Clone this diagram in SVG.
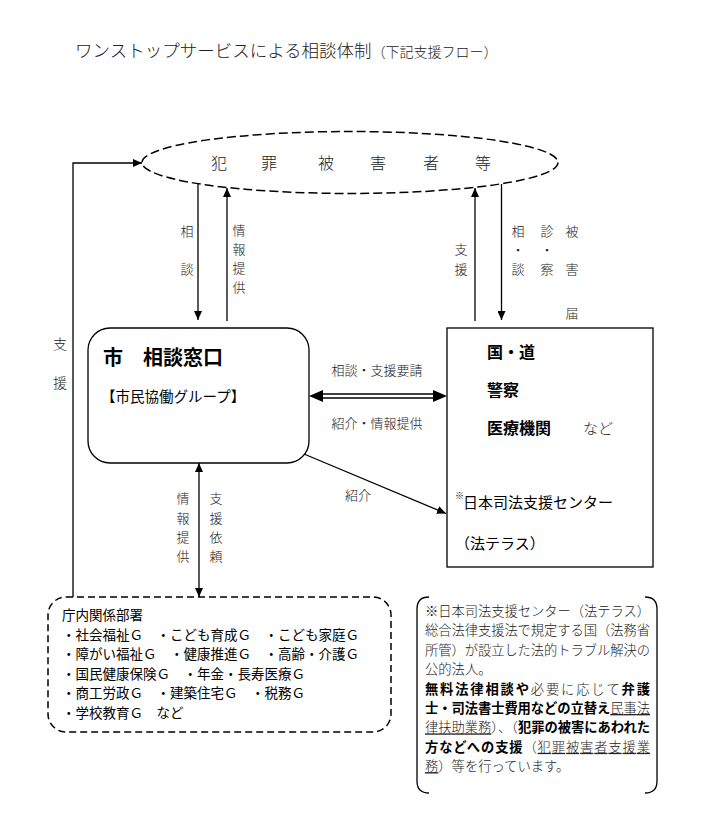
<svg xmlns="http://www.w3.org/2000/svg" width="713" height="839" viewBox="0 0 713 839">
<style>
.m{font-family:"Noto Sans CJK JP","Noto Sans",sans-serif;font-weight:300;fill:#222}
.g{font-family:"Noto Sans CJK JP","Noto Sans",sans-serif;fill:#000}
.b{font-family:"Noto Sans CJK JP","Noto Sans",sans-serif;font-weight:bold;fill:#000}
.ln{stroke:#000;stroke-width:1.3;fill:none}
.u{text-decoration:underline}
</style>
<defs>
<marker id="ah" markerUnits="userSpaceOnUse" markerWidth="9" markerHeight="8" refX="9" refY="4" orient="auto-start-reverse">
<path d="M0,0 L9,4 L0,8 z" fill="#000"/>
</marker>
</defs>
<rect width="713" height="839" fill="#fff"/>

<g id="title">
<text class="m" x="75" y="57" font-size="17.5">ワンストップサービスによる相談体制<tspan font-size="14">（下記支援フロー）</tspan></text>
</g>

<g id="victims">
<ellipse cx="350" cy="162.5" rx="208" ry="31" fill="none" stroke="#000" stroke-width="1.5" stroke-dasharray="9,4"/>
<text class="m" font-size="16" text-anchor="middle" x="219 269 326 378 431 483" y="168.5">犯罪被害者等</text>
</g>

<g id="city-window">
<rect x="88" y="328" width="221" height="135" rx="22" fill="#fff" stroke="#000" stroke-width="1.3"/>
<text class="b" x="103" y="364.5" font-size="20">市　相談窓口</text>
<text class="g" x="101" y="402" font-size="14.5">【市民協働グループ】</text>
</g>

<g id="agencies">
<rect x="447" y="328" width="206" height="239" fill="#fff" stroke="#000" stroke-width="1.3"/>
<text class="b" x="487" y="358" font-size="16">国・道</text>
<text class="b" x="487" y="396" font-size="16">警察</text>
<text class="b" x="487" y="434" font-size="16">医療機関</text>
<text class="m" x="583" y="433.5" font-size="15">など</text>
<text class="g" x="455" y="499" font-size="9">※</text>
<text class="g" x="463" y="507.5" font-size="15">日本司法支援センター</text>
<text class="g" x="455" y="549" font-size="15">（法テラス）</text>
</g>

<g id="departments">
<rect x="48" y="597" width="343" height="135" rx="18" fill="none" stroke="#000" stroke-width="1.5" stroke-dasharray="7,4"/>
<text class="g" x="62" y="620" font-size="13.5">庁内関係部署</text>
<text class="g" x="62" y="639.5" font-size="13.5">・社会福祉Ｇ　・こども育成Ｇ　・こども家庭Ｇ</text>
<text class="g" x="62" y="659" font-size="13.5">・障がい福祉Ｇ　・健康推進Ｇ　・高齢・介護Ｇ</text>
<text class="g" x="62" y="678.5" font-size="13.5">・国民健康保険Ｇ　・年金・長寿医療Ｇ</text>
<text class="g" x="62" y="698" font-size="13.5">・商工労政Ｇ　・建築住宅Ｇ　・税務Ｇ</text>
<text class="g" x="62" y="717.5" font-size="13.5">・学校教育Ｇ　など</text>
</g>

<g id="note">
<path class="ln" d="M429,597 Q417,597 417,609 V781 Q417,793 429,793"/>
<path class="ln" d="M645,597 Q657,597 657,609 V781 Q657,793 645,793"/>
<text class="m" x="425" y="616" font-size="13.3" textLength="225" lengthAdjust="spacing">※日本司法支援センター（法テラス）</text>
<text class="m" x="425" y="635.4" font-size="13.3" textLength="225" lengthAdjust="spacing">総合法律支援法で規定する国（法務省</text>
<text class="m" x="425" y="654.8" font-size="13.3" textLength="225" lengthAdjust="spacing">所管）が設立した法的トラブル解決の</text>
<text class="m" x="425" y="674.2" font-size="13.3">公的法人。</text>
<text class="m" x="425" y="693.6" font-size="13.3" textLength="225" lengthAdjust="spacing"><tspan class="b">無料法律相談や</tspan>必要に応じて<tspan class="b">弁護</tspan></text>
<text class="m" x="425" y="713" font-size="13.3" textLength="225" lengthAdjust="spacing"><tspan class="b">士・司法書士費用などの立替え</tspan><tspan class="u">民事法</tspan></text>
<text class="m" x="425" y="732.4" font-size="13.3" textLength="225" lengthAdjust="spacing"><tspan class="u">律扶助業務</tspan>）、（<tspan class="b">犯罪の被害にあわれた</tspan></text>
<text class="m" x="425" y="751.8" font-size="13.3" textLength="225" lengthAdjust="spacing"><tspan class="b">方などへの支援</tspan>（<tspan class="u">犯罪被害者支援業</tspan></text>
<text class="m" x="425" y="771.2" font-size="13.3"><tspan class="u">務</tspan>）等を行っています。</text>
</g>

<g id="connectors">
<path class="ln" d="M73,597 V163 H142" marker-end="url(#ah)"/>
<line class="ln" x1="198" y1="184" x2="198" y2="320" marker-end="url(#ah)"/>
<line class="ln" x1="227" y1="321" x2="227" y2="188" marker-end="url(#ah)"/>
<line class="ln" x1="475" y1="321" x2="475" y2="188" marker-end="url(#ah)"/>
<line class="ln" x1="501.5" y1="184" x2="501.5" y2="320" marker-end="url(#ah)"/>
<line class="ln" x1="322" y1="394" x2="434" y2="394"/>
<line class="ln" x1="322" y1="398" x2="434" y2="398"/>
<polygon points="309,396 323,390 323,402" fill="#000"/>
<polygon points="447,396 433,390 433,402" fill="#000"/>
<line class="ln" x1="304" y1="454" x2="446" y2="513.5" marker-end="url(#ah)"/>
<line class="ln" x1="199" y1="463" x2="199" y2="597" marker-start="url(#ah)" marker-end="url(#ah)"/>
</g>

<g id="labels">
<text class="m" font-size="14" text-anchor="middle" x="60" y="349">支</text>
<text class="m" font-size="14" text-anchor="middle" x="60" y="388">援</text>
<text class="m" font-size="13" text-anchor="middle" x="187" y="236">相</text>
<text class="m" font-size="13" text-anchor="middle" x="187" y="274">談</text>
<text class="m" font-size="13" text-anchor="middle" x="239" y="235">情</text>
<text class="m" font-size="13" text-anchor="middle" x="239" y="254">報</text>
<text class="m" font-size="13" text-anchor="middle" x="239" y="273">提</text>
<text class="m" font-size="13" text-anchor="middle" x="239" y="292">供</text>
<text class="m" font-size="13" text-anchor="middle" x="461" y="254">支</text>
<text class="m" font-size="13" text-anchor="middle" x="461" y="274">援</text>
<text class="m" font-size="13" text-anchor="middle" x="518" y="236">相</text>
<text class="m" font-size="13" text-anchor="middle" x="518" y="255">・</text>
<text class="m" font-size="13" text-anchor="middle" x="518" y="274">談</text>
<text class="m" font-size="13" text-anchor="middle" x="547" y="236">診</text>
<text class="m" font-size="13" text-anchor="middle" x="547" y="255">・</text>
<text class="m" font-size="13" text-anchor="middle" x="547" y="274">察</text>
<text class="m" font-size="13" text-anchor="middle" x="572" y="236">被</text>
<text class="m" font-size="13" text-anchor="middle" x="572" y="274">害</text>
<text class="m" font-size="13" text-anchor="middle" x="572" y="318">届</text>
<text class="m" font-size="13" text-anchor="middle" x="377" y="375">相談・支援要請</text>
<text class="m" font-size="13" text-anchor="middle" x="377" y="428">紹介・情報提供</text>
<text class="m" font-size="13" text-anchor="middle" x="358" y="500">紹介</text>
<text class="m" font-size="13" text-anchor="middle" x="183" y="503">情</text>
<text class="m" font-size="13" text-anchor="middle" x="183" y="523">報</text>
<text class="m" font-size="13" text-anchor="middle" x="183" y="542">提</text>
<text class="m" font-size="13" text-anchor="middle" x="183" y="561">供</text>
<text class="m" font-size="13" text-anchor="middle" x="216" y="503">支</text>
<text class="m" font-size="13" text-anchor="middle" x="216" y="523">援</text>
<text class="m" font-size="13" text-anchor="middle" x="216" y="542">依</text>
<text class="m" font-size="13" text-anchor="middle" x="216" y="561">頼</text>
</g>
</svg>
